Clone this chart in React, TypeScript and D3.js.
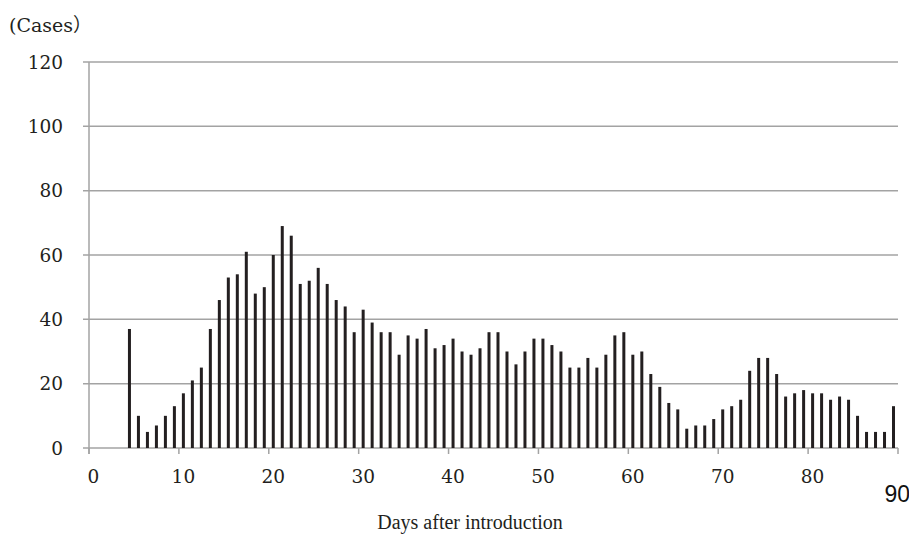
import * as d3 from "d3";

// day after introduction (category) and number of cases that day
const days = [
  4, 5, 6, 7, 8, 9, 10, 11, 12, 13, 14, 15, 16, 17, 18, 19, 20, 21, 22, 23,
  24, 25, 26, 27, 28, 29, 30, 31, 32, 33, 34, 35, 36, 37, 38, 39, 40, 41, 42,
  43, 44, 45, 46, 47, 48, 49, 50, 51, 52, 53, 54, 55, 56, 57, 58, 59, 60, 61,
  62, 63, 64, 65, 66, 67, 68, 69, 70, 71, 72, 73, 74, 75, 76, 77, 78, 79, 80,
  81, 82, 83, 84, 85, 86, 87, 88, 89,
];
const cases = [
  37, 10, 5, 7, 10, 13, 17, 21, 25, 37, 46, 53, 54, 61, 48, 50, 60, 69, 66, 51,
  52, 56, 51, 46, 44, 36, 43, 39, 36, 36, 29, 35, 34, 37, 31, 32, 34, 30, 29,
  31, 36, 36, 30, 26, 30, 34, 34, 32, 30, 25, 25, 28, 25, 29, 35, 36, 29, 30,
  23, 19, 14, 12, 6, 7, 7, 9, 12, 13, 15, 24, 28, 28, 23, 16, 17, 18, 17, 17,
  15, 16, 15, 10, 5, 5, 5, 13,
];
const xTickLabels = [0, 10, 20, 30, 40, 50, 60, 70, 80];
const yTicks = [0, 20, 40, 60, 80, 100, 120];

const width = 909;
const height = 536;
const marginLeft = 89;
const marginRight = 11;
const marginTop = 62;
const marginBottom = 88;

// wide serif for the numbers (close to Century in the original)
const numFont = "'DejaVu Serif', 'Noto Sans CJK JP', serif";
const titleFont = "'Liberation Serif', 'Times New Roman', serif";

export default function App() {
  const x = d3.scaleLinear().domain([0, 90]).range([marginLeft, width - marginRight]);
  const y = d3.scaleLinear().domain([0, 120]).range([height - marginBottom, marginTop]);
  const barW = 3;
  const gridColor = "#a3a3a3";
  const ink = "#231f20";
  const data = days.map((d, i) => ({ day: d, value: cases[i] }));

  return (
    <svg
      width={width}
      height={height}
      style={{ position: "absolute", left: 0, top: 0, background: "#fff" }}
    >
      {/* gridlines + y labels */}
      {yTicks.map((t) => (
        <g key={t}>
          <line x1={x(0) - 6} x2={x(90)} y1={y(t)} y2={y(t)} stroke={gridColor} strokeWidth={1.5} />
          <text x={63} y={y(t)} dy="0.36em" textAnchor="end" fontSize={18.5} fontFamily={numFont} fill={ink}>
            {t}
          </text>
        </g>
      ))}
      {/* y axis line */}
      <line x1={x(0)} x2={x(0)} y1={y(120)} y2={y(0) + 6} stroke={gridColor} strokeWidth={1.5} />
      {/* x tick marks every 10 days */}
      {[...xTickLabels, 90].map((t) => (
        <line key={t} x1={x(t)} x2={x(t)} y1={y(0)} y2={y(0) + 6} stroke={gridColor} strokeWidth={1.5} />
      ))}
      {xTickLabels.map((t) => (
        <text key={t} x={x(t + 0.5)} y={483} textAnchor="middle" fontSize={18.5} fontFamily={numFont} fill={ink}>
          {t}
        </text>
      ))}
      <text x={910} y={502} textAnchor="end" fontSize={23} fontFamily="'Liberation Sans Narrow', 'Liberation Sans', Arial, sans-serif" fill="#111">
        90
      </text>

      {/* bars */}
      <g fill={ink}>
        {data.map((d) => (
          <rect
            key={d.day}
            x={x(d.day + 0.5) - barW / 2}
            width={barW}
            y={y(d.value)}
            height={y(0) - y(d.value)}
          />
        ))}
      </g>

      <text x={9} y={32} fontSize={19} fontFamily={numFont} fill={ink}>
        (Cases）
      </text>
      <text x={470} y={529} textAnchor="middle" fontSize={20} fontFamily={titleFont} fill={ink}>
        Days after introduction
      </text>
    </svg>
  );
}
